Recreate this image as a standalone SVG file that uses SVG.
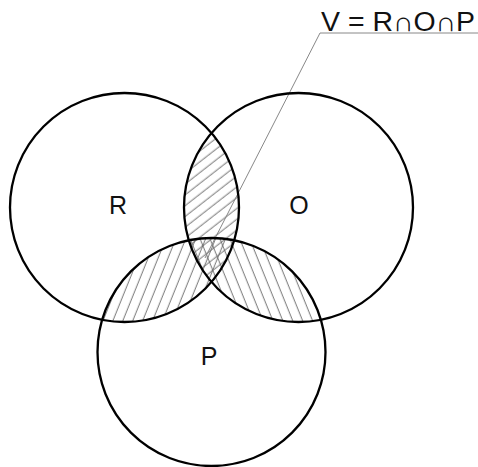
<svg xmlns="http://www.w3.org/2000/svg" width="478" height="467" viewBox="0 0 478 467">
<style>
.c{fill:none;stroke:#000;stroke-width:2.3}
.lbl{font-family:"Liberation Sans",Arial,sans-serif;font-size:25px;fill:#111}
.h{stroke:#666;stroke-width:0.9}
.lead{stroke:#888;stroke-width:1;fill:none}
</style>
<defs>
<clipPath id="cR"><circle cx="124.5" cy="207.5" r="114.5"/></clipPath>
<clipPath id="cO"><circle cx="298.5" cy="207.5" r="114.5"/></clipPath>
<clipPath id="cP"><circle cx="211.5" cy="352" r="114"/></clipPath>
<pattern id="hRO" patternUnits="userSpaceOnUse" width="10" height="8.5" patternTransform="rotate(-38)"><line class="h" x1="0" y1="4" x2="10" y2="4"/></pattern>
<pattern id="hRP" patternUnits="userSpaceOnUse" width="9.2" height="10" patternTransform="rotate(22)"><line class="h" x1="4" y1="0" x2="4" y2="10"/></pattern>
<pattern id="hOP" patternUnits="userSpaceOnUse" width="9.2" height="10" patternTransform="rotate(-22)"><line class="h" x1="4" y1="0" x2="4" y2="10"/></pattern>
</defs>
<g id="hatching">
<g clip-path="url(#cR)"><rect x="0" y="0" width="478" height="467" fill="url(#hRO)" clip-path="url(#cO)"/></g>
<g clip-path="url(#cR)"><rect x="0" y="0" width="478" height="467" fill="url(#hRP)" clip-path="url(#cP)"/></g>
<g clip-path="url(#cO)"><rect x="0" y="0" width="478" height="467" fill="url(#hOP)" clip-path="url(#cP)"/></g>
</g>
<g id="connectors">
<polyline class="lead" points="478,33 320,33 205,258"/>
</g>
<g id="R"><circle class="c" cx="124.5" cy="207.5" r="114.5"/><text class="lbl" x="118" y="214" text-anchor="middle">R</text></g>
<g id="O"><circle class="c" cx="298.5" cy="207.5" r="114.5"/><text class="lbl" x="299" y="214" text-anchor="middle">O</text></g>
<g id="P"><circle class="c" cx="211.5" cy="352" r="114"/><text class="lbl" x="209" y="365" text-anchor="middle">P</text></g>
<g id="V"><text class="lbl" x="321" y="31" style="font-size:27px" textLength="154" lengthAdjust="spacingAndGlyphs">V = R∩O∩P</text></g>
</svg>
